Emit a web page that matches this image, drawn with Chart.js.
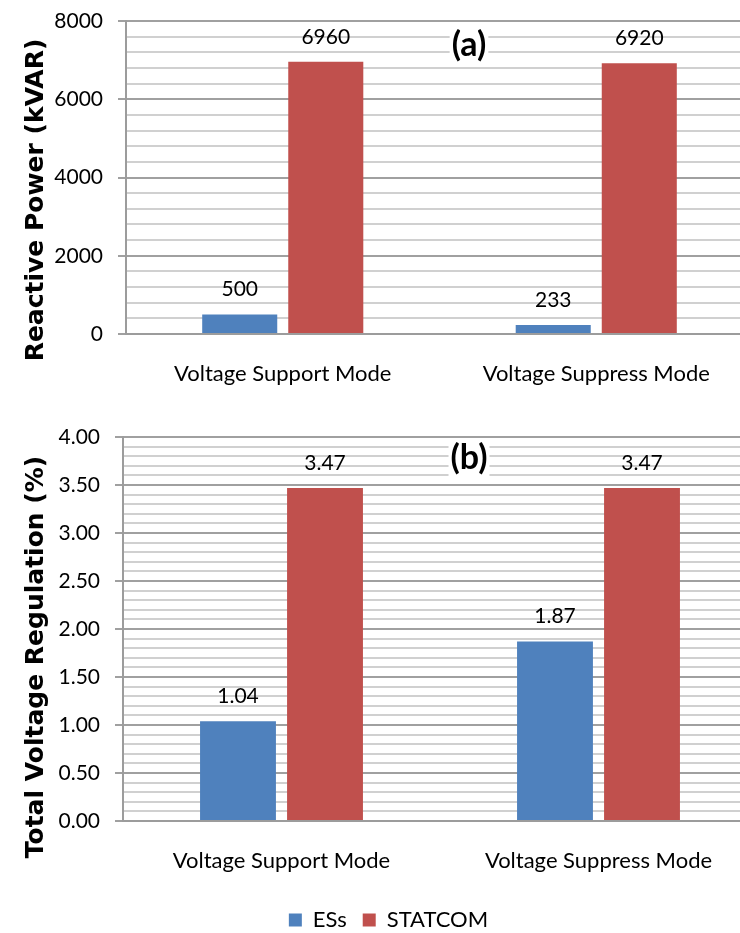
<!DOCTYPE html>
<html>
<head>
<meta charset="utf-8">
<script src="https://cdn.jsdelivr.net/npm/chart.js@4.4.1/dist/chart.umd.min.js"></script>
<style>
  html, body { margin: 0; padding: 0; background: #fff; overflow: hidden; }
  canvas { display: block; }
</style>
</head>
<body>
<canvas id="powerChart" width="753" height="400"></canvas>
<canvas id="regChart" width="757" height="541"></canvas>
<script>
// data
const categories = ['Voltage Support Mode', 'Voltage Suppress Mode'];
const seriesNames = ['ESs', 'STATCOM'];
const esPower = [500, 233];
const statcomPower = [6960, 6920];
const esRegulation = [1.04, 1.87];
const statcomRegulation = [3.47, 3.47];
const powerTicks = [0, 2000, 4000, 6000, 8000];
const regulationTicks = [0, 0.5, 1, 1.5, 2, 2.5, 3, 3.5, 4];

const BLUE = '#4F81BD';
const RED = '#C0504D';
const MAJOR_GRID = '#a0a0a0';
const MINOR_GRID = '#d0d0d0';

Chart.defaults.font.family = 'Lato';
Chart.defaults.color = '#000';

const isMajor = (list, v) => list.some(t => Math.abs(t - v) < 1e-6);

// value labels over bars, panel tag and rotated axis title
const annotate = {
  id: 'annotate',
  afterDatasetsDraw(chart, args, opts) {
    const ctx = chart.ctx;
    ctx.save();
    ctx.fillStyle = '#000';
    ctx.textAlign = 'center';
    ctx.font = '21px Lato';
    ctx.textBaseline = 'alphabetic';
    chart.data.datasets.forEach((ds, i) => {
      chart.getDatasetMeta(i).data.forEach((bar, j) => {
        ctx.fillText(opts.format(ds.data[j]), bar.x, bar.y - 18);
      });
    });

    ctx.font = 'bold 34px Lato';
    ctx.textBaseline = 'middle';
    const w = ctx.measureText(opts.tag).width;
    ctx.fillStyle = '#fff';
    ctx.fillRect(opts.tagX - w / 2 - 2, opts.tagY - 20, w + 4, 40);
    ctx.fillStyle = '#000';
    ctx.fillText(opts.tag, opts.tagX, opts.tagY);

    ctx.font = 'bold 25px "DejaVu Sans"';
    ctx.translate(36, opts.titleY);
    ctx.rotate(-Math.PI / 2);
    ctx.fillText(opts.title, 0, 0);
    ctx.restore();
  }
};

function valueAxis(max, step, majors, fmt, width) {
  return {
    min: 0,
    max: max,
    afterFit: s => {
      s.width = width;
      // the layout padding alone sets the plot top
      s.paddingTop = 0;
      s.paddingBottom = 0;
    },
    border: { color: '#9c9c9c', width: 2 },
    grid: {
      lineWidth: 2,
      tickLength: 8,
      color: c => isMajor(majors, c.tick.value) ? MAJOR_GRID : MINOR_GRID,
      tickColor: c => isMajor(majors, c.tick.value) ? MAJOR_GRID : 'transparent'
    },
    ticks: {
      stepSize: step,
      autoSkip: false,
      padding: 15,
      font: { size: 21 },
      callback: v => isMajor(majors, v) ? fmt(v) : ''
    }
  };
}

function categoryAxis(height) {
  return {
    afterFit: s => { s.height = height; },
    grid: { display: false, drawTicks: false },
    border: { display: true, color: '#9c9c9c', width: 2 },
    ticks: { padding: 27, font: { size: 22 } }
  };
}

function bars(a, b) {
  return [
    { label: seriesNames[0], data: a, backgroundColor: BLUE,
      categoryPercentage: 0.549, barPercentage: 0.872 },
    { label: seriesNames[1], data: b, backgroundColor: RED,
      categoryPercentage: 0.549, barPercentage: 0.872 }
  ];
}

// (a) reactive power
new Chart(document.getElementById('powerChart'), {
  type: 'bar',
  data: { labels: categories, datasets: bars(esPower, statcomPower) },
  plugins: [annotate],
  options: {
    responsive: false,
    animation: false,
    layout: { padding: { top: 21, bottom: 0, left: 0, right: 0 } },
    scales: {
      x: categoryAxis(66),
      y: valueAxis(8000, 400, powerTicks, v => String(v), 126)
    },
    plugins: {
      legend: { display: false },
      tooltip: { enabled: false },
      annotate: {
        format: v => String(v),
        tag: '(a)', tagX: 469, tagY: 45,
        title: 'Reactive Power (kVAR)', titleY: 200
      }
    }
  }
});

// (b) total voltage regulation
new Chart(document.getElementById('regChart'), {
  type: 'bar',
  data: { labels: categories, datasets: bars(esRegulation, statcomRegulation) },
  plugins: [annotate],
  options: {
    responsive: false,
    animation: false,
    layout: { padding: { top: 37, bottom: 0, left: 20, right: 0 } },
    scales: {
      x: categoryAxis(72),
      y: valueAxis(4, 0.1, regulationTicks, v => v.toFixed(2), 103)
    },
    plugins: {
      legend: {
        position: 'bottom',
        labels: { boxWidth: 13, boxHeight: 13, padding: 16, font: { size: 22 } }
      },
      tooltip: { enabled: false },
      annotate: {
        format: v => v.toFixed(2),
        tag: '(b)', tagX: 469, tagY: 58,
        title: 'Total Voltage Regulation (%)', titleY: 257
      }
    }
  }
});
</script>
</body>
</html>
